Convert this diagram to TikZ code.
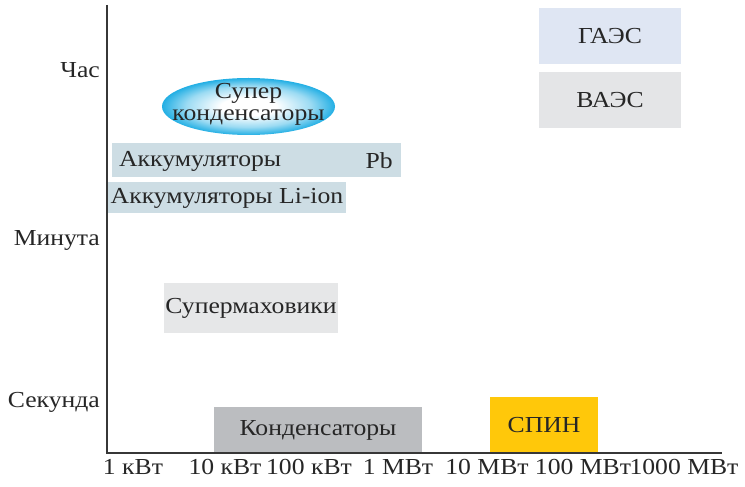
\documentclass[tikz,border=0pt]{standalone}
\usepackage{fontspec}
\setmainfont{Liberation Serif}[FakeStretch=1.12]
\definecolor{gaescol}{RGB}{223,230,243}
\definecolor{vaescol}{RGB}{228,229,231}
\definecolor{akkcol}{RGB}{205,221,228}
\definecolor{flycol}{RGB}{230,231,232}
\definecolor{condcol}{RGB}{187,189,192}
\definecolor{spincol}{RGB}{255,200,10}
\definecolor{supcol}{RGB}{35,175,228}
\definecolor{axiscol}{RGB}{55,55,55}
\pgfdeclareradialshading{superglow}{\pgfpoint{0bp}{0bp}}{%
  color(0bp)=(white); color(8bp)=(white); color(18bp)=(supcol!45);
  color(25bp)=(supcol); color(50bp)=(supcol)}
\tikzset{
  every node/.style={font=\fontsize{23}{26}\selectfont, inner sep=0pt, text=black!85},
}
\begin{document}
\begin{tikzpicture}[x=1bp,y=-1bp]
\useasboundingbox (0,0) rectangle (745,487);
% boxes
\node [fill=gaescol, minimum width=142bp, minimum height=56bp] (gaes) at (610,36) {ГАЭС};
\node [fill=vaescol, minimum width=142bp, minimum height=56bp] (vaes) at (610,100) {ВАЭС};
\shade [shading=superglow] (248.5,106.5) ellipse [x radius=86.5, y radius=28.5];
\node [align=center] (super) at (248.5,104) {Супер\\[-4pt]конденсаторы};
\node [fill=akkcol, minimum width=289bp, minimum height=34bp] (pb) at (256.5,160) {};
\node [anchor=west] (pbname) at (119,161) {Аккумуляторы};
\node [anchor=east] (pbtext) at (393,161) {Pb};
\node [fill=akkcol, minimum width=238bp, minimum height=31bp] (liion) at (227,198) {Аккумуляторы Li-ion};
\node [fill=flycol, minimum width=174bp, minimum height=49bp] (fly) at (251,308) {Супермаховики};
\node [fill=condcol, minimum width=208bp, minimum height=47bp] (cond) at (318,430) {Конденсаторы};
\node [fill=spincol, minimum width=108bp, minimum height=57bp] (spin) at (544,425) {СПИН};
% axes
\draw [axiscol, line width=1.6bp] (107,5) -- (107,453) -- (722,453);
% time labels
\node [anchor=east] (hour) at (100,70) {Час};
\node [anchor=east] (minute) at (100,240) {Минута};
\node [anchor=east] (second) at (100,402) {Секунда};
% power labels
\node (p1) at (133,467) {1 кВт};
\node (p2) at (225,467) {10 кВт};
\node (p3) at (309,467) {100 кВт};
\node (p4) at (398,467) {1 МВт};
\node (p5) at (487,467) {10 МВт};
\node (p6) at (583,467) {100 МВт};
\node (p7) at (684,467) {1000 МВт};
\end{tikzpicture}
\end{document}
